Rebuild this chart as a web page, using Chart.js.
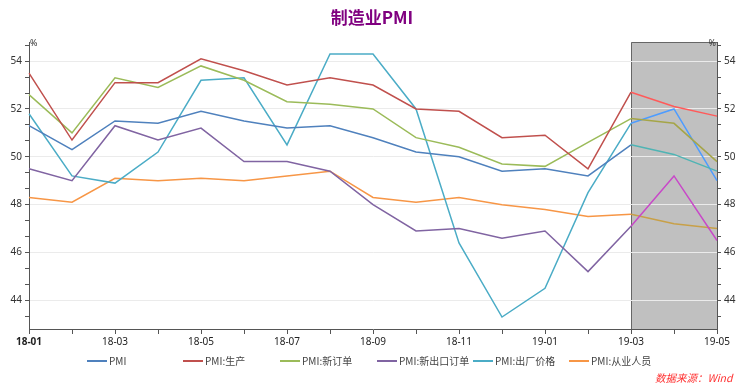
<!DOCTYPE html>
<html>
<head>
<meta charset="utf-8">
<title>制造业PMI</title>
<script src="https://cdn.jsdelivr.net/npm/chart.js@4.4.1/dist/chart.umd.min.js"></script>
<style>
  body { margin: 0; background: #fff; }
  #wrap { position: relative; width: 748px; height: 392px; font-family: "Noto Sans CJK SC", "Noto Sans", sans-serif; }
  #title { position: absolute; left: 0; width: 744px; top: 4px; text-align: center; font-size: 17px; font-weight: bold; color: #800080; }
  .lg { position: absolute; top: 353px; height: 16px; line-height: 16px; font-size: 10px; color: #444; white-space: nowrap; }
  .lg span { display: inline-block; width: 20px; height: 2px; vertical-align: middle; margin-right: 2px; margin-top: -2px; }
  #src { position: absolute; left: 655px; top: 370px; font-size: 10.5px; font-style: italic; color: #ff3030; white-space: nowrap; }
</style>
</head>
<body>
<div id="wrap">
  <canvas id="pmiChart" width="748" height="392"></canvas>
  <div id="title">制造业PMI</div>
  <div id="legend"></div>
  <div id="src">数据来源：Wind</div>
</div>
<script>
// months 18-01 .. 19-05
var months = ['18-01','18-02','18-03','18-04','18-05','18-06','18-07','18-08','18-09',
              '18-10','18-11','18-12','19-01','19-02','19-03','19-04','19-05'];

var pmi        = [51.3, 50.3, 51.5, 51.4, 51.9, 51.5, 51.2, 51.3, 50.8, 50.2, 50.0, 49.4, 49.5, 49.2, 50.5, 50.1, 49.4];
var production = [53.5, 50.7, 53.1, 53.1, 54.1, 53.6, 53.0, 53.3, 53.0, 52.0, 51.9, 50.8, 50.9, 49.5, 52.7, 52.1, 51.7];
var newOrders  = [52.6, 51.0, 53.3, 52.9, 53.8, 53.2, 52.3, 52.2, 52.0, 50.8, 50.4, 49.7, 49.6, 50.6, 51.6, 51.4, 49.8];
var exportOrd  = [49.5, 49.0, 51.3, 50.7, 51.2, 49.8, 49.8, 49.4, 48.0, 46.9, 47.0, 46.6, 46.9, 45.2, 47.1, 49.2, 46.5];
var outPrice   = [51.8, 49.2, 48.9, 50.2, 53.2, 53.3, 50.5, 54.3, 54.3, 52.0, 46.4, 43.3, 44.5, 48.5, 51.4, 52.0, 49.0];
var employment = [48.3, 48.1, 49.1, 49.0, 49.1, 49.0, 49.2, 49.4, 48.3, 48.1, 48.3, 48.0, 47.8, 47.5, 47.6, 47.2, 47.0];

var seriesNames = ['PMI', 'PMI:生产', 'PMI:新订单', 'PMI:新出口订单', 'PMI:出厂价格', 'PMI:从业人员'];

// shaded area starts at 19-03
var shadeFrom = 14;

// y ticks: labels at even numbers, small ticks every 2/3
var yTicks = [];
for (var k = -1; k <= 16; k++) yTicks.push(44 + k * 2 / 3);
function isMajor(v) { return Math.abs(v - Math.round(v)) < 0.01; }

var colors = ['#4f81bd', '#c0504d', '#9bbb59', '#8064a2', '#4bacc6', '#f79646'];
var shadedColors = ['#4fb4b4', '#ff5a5a', '#a5a548', '#c848c8', '#4d9cff', '#c8a048'];
var values = [pmi, production, newOrders, exportOrd, outPrice, employment];

var datasets = values.map(function (v, i) {
  return {
    label: seriesNames[i],
    data: v,
    borderColor: colors[i],
    borderWidth: 1.5,
    pointRadius: 0,
    tension: 0,
    fill: false,
    yAxisID: 'y',
    segment: {
      borderColor: function (c) { return c.p0DataIndex >= shadeFrom ? shadedColors[i] : colors[i]; }
    }
  };
});

// html legend
var lgHtml = '';
var lgLeft = [87, 183, 280, 377, 473, 569];
seriesNames.forEach(function (n, i) {
  lgHtml += '<div class="lg" style="left:' + lgLeft[i] + 'px"><span style="background:' + colors[i] + '"></span>' + n + '</div>';
});
document.getElementById('legend').innerHTML = lgHtml;

var shadePlugin = {
  id: 'shade',
  beforeDraw: function (chart) {
    var ctx = chart.ctx, a = chart.chartArea;
    var x0 = chart.scales.x.getPixelForValue(shadeFrom);
    ctx.save();
    ctx.fillStyle = '#c0c0c0';
    ctx.fillRect(x0, a.top, a.right - x0, a.bottom - a.top);
    ctx.strokeStyle = '#666';
    ctx.lineWidth = 1;
    ctx.beginPath();
    ctx.moveTo(Math.round(x0) + 0.5, a.bottom);
    ctx.lineTo(Math.round(x0) + 0.5, a.top + 0.5);
    ctx.lineTo(a.right, a.top + 0.5);
    ctx.stroke();
    ctx.restore();
  },
  afterDraw: function (chart) {
    var ctx = chart.ctx, a = chart.chartArea;
    ctx.save();
    ctx.fillStyle = '#333';
    ctx.font = '9px "Noto Sans"';
    ctx.textBaseline = 'middle';
    ctx.fillText('%', a.left + 1, a.top + 1);
    ctx.textAlign = 'right';
    ctx.fillText('%', a.right - 1, a.top + 1);
    ctx.restore();
  }
};

function yAxis(pos, width, onArea) {
  return {
    position: pos,
    min: 42.8,
    max: 54.8,
    afterBuildTicks: function (s) { s.ticks = yTicks.map(function (v) { return { value: v }; }); },
    afterFit: function (s) { s.width = width; },
    border: { color: '#555', width: 1 },
    grid: {
      drawOnChartArea: onArea,
      color: function (c) { return c.tick && isMajor(c.tick.value) ? '#ebebeb' : 'rgba(0,0,0,0)'; },
      tickColor: '#555',
      tickLength: 4
    },
    ticks: {
      autoSkip: false,
      color: '#333',
      padding: 3,
      font: { size: 10 },
      callback: function (v) { return isMajor(v) ? Math.round(v) : ''; }
    }
  };
}

Chart.defaults.font.family = '"Noto Sans", "Noto Sans CJK SC", sans-serif';

var ctx = document.getElementById('pmiChart').getContext('2d');
var chart = new Chart(ctx, {
  type: 'line',
  data: { labels: months, datasets: datasets },
  plugins: [shadePlugin],
  options: {
    responsive: false,
    animation: false,
    devicePixelRatio: 1,
    layout: { padding: { top: 42, left: 0, right: 0, bottom: 0 } },
    plugins: {
      legend: { display: false },
      title: { display: false },
      tooltip: { enabled: false }
    },
    scales: {
      x: {
        offset: false,
        afterFit: function (s) { s.height = 63; },
        border: { color: '#555', width: 1 },
        grid: { drawOnChartArea: false, tickColor: '#555', tickLength: 5 },
        ticks: {
          autoSkip: false,
          maxRotation: 0,
          color: '#222',
          padding: 2,
          font: function (c) { return c.index === 0 ? { size: 10, weight: 'bold' } : { size: 10 }; },
          callback: function (v, i) { return i % 2 === 0 ? this.getLabelForValue(v) : ''; }
        }
      },
      y: yAxis('left', 29, true),
      y2: yAxis('right', 31, false)
    }
  }
});
</script>
</body>
</html>
